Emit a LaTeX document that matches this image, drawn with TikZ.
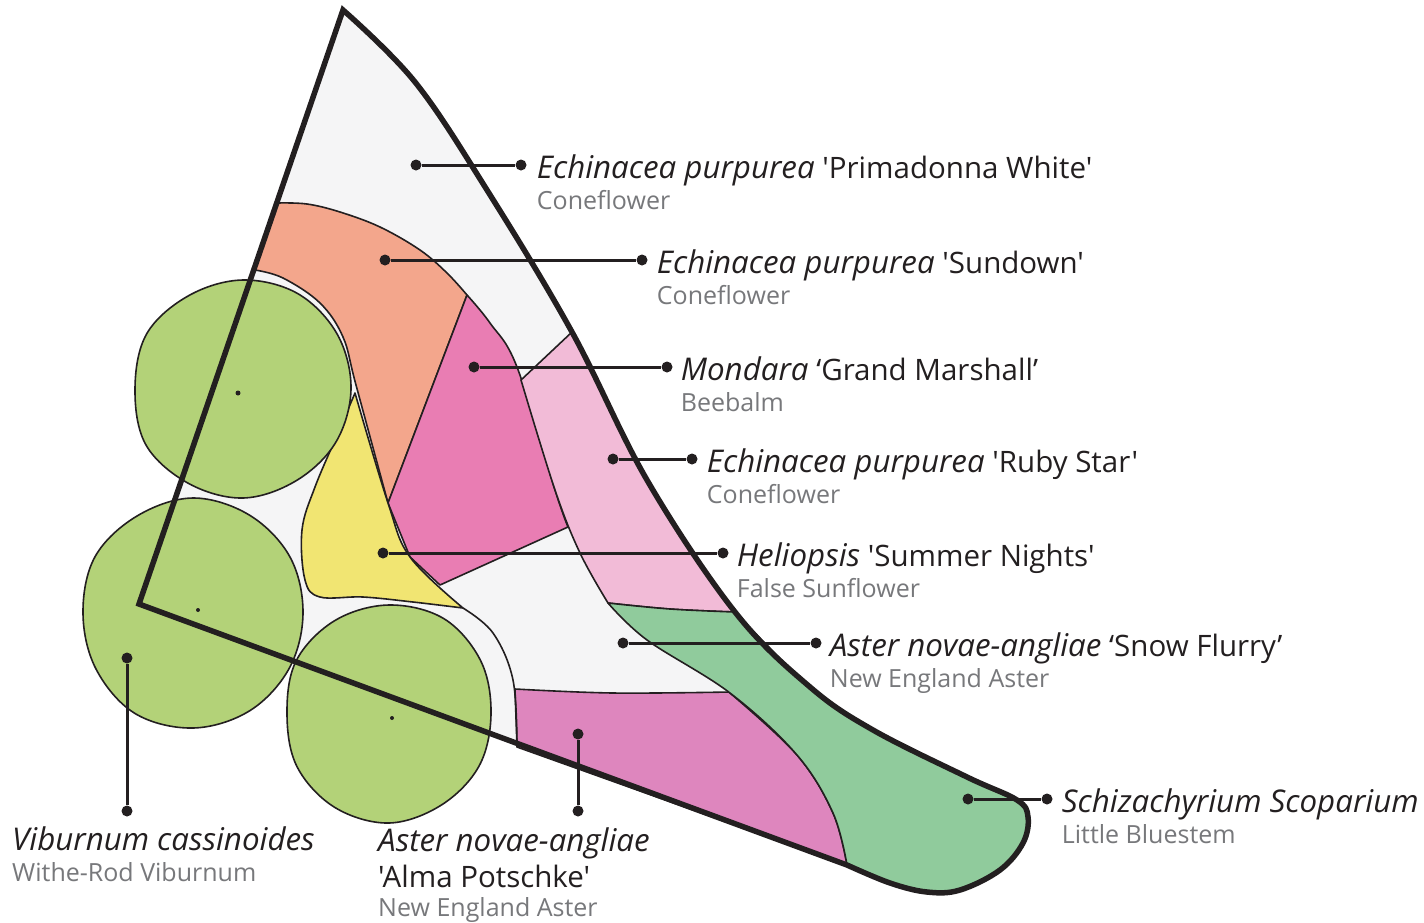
\documentclass[tikz,border=0pt]{standalone}
\usepackage{fontspec}
\setmainfont{Open Sans}[Ligatures=TeXOff]
\usetikzlibrary{positioning}
\definecolor{blanco}{HTML}{F5F5F6}
\definecolor{salmon}{HTML}{F3A68C}
\definecolor{fucsia}{HTML}{E97DB3}
\definecolor{rosa}{HTML}{F2BBD7}
\definecolor{magenta2}{HTML}{DE86BE}
\definecolor{pasto}{HTML}{90CB9C}
\definecolor{amarillo}{HTML}{F1E572}
\definecolor{hoja}{HTML}{B3D278}
\definecolor{tinta}{HTML}{231F20}
\definecolor{gris}{HTML}{77787B}
\newcommand{\latin}[1]{{\fontsize{31.3}{32}\selectfont\itshape #1}}

\begin{document}
\begin{tikzpicture}[x=1pt,y=-1pt,
  zona/.style={draw=tinta,line width=1.6pt,line join=round},
  borde/.style={draw=tinta,line width=5.5pt,line join=miter},
  curva/.style={smooth,tension=.6},
  punto/.style={circle,fill=tinta,inner sep=0pt,minimum size=11pt},
  guia/.style={draw=tinta,line width=3pt},
  planta/.style={inner sep=0pt,text height=22pt,text depth=7pt,text=tinta,yshift=-6pt,font=\fontsize{29.5}{32}\selectfont},
  comun/.style={inner sep=0pt,text height=19pt,text depth=6pt,text=gris,font=\fontsize{25}{28}\selectfont}]
\useasboundingbox (0,0) rectangle (1424,922);
\fill[white] (0,0) rectangle (1424,922);
% cantero
\fill[blanco] plot[curva] coordinates {(343,10) (415,82) (487,190) (572,332) (647,480) (735,612) (810,687) (873,730) (967,777) (1017,800) (1028,817) (1023,843) (1000,870) (960,890) (927,892) (890,883) (847,865)} -- (139,604) -- cycle;
% zonas
\draw[zona,fill=salmon] plot[curva] coordinates {(277,203) (307,204) (340,212) (380,227) (420,250) (447,273) (467,295)} -- (388,503) -- plot[curva] coordinates {(388,503) (356,385) (343,337) (320,303) (283,278) (255,270)} -- cycle;
\draw[zona,fill=fucsia] plot[curva] coordinates {(467,295) (490,323) (517,367) (555,490) (568,527)} -- (440,585) -- (410,557) -- (388,503) -- cycle;
\draw[zona,fill=rosa] (521,380) -- plot[curva] coordinates {(572,332) (607,403) (647,480) (693,553) (735,612)} -- plot[curva] coordinates {(735,612) (670,609) (608,603)} -- plot[curva] coordinates {(608,603) (580,553) (555,490) (521,380)} -- cycle;
\draw[zona,fill=magenta2] plot[curva] coordinates {(515,689) (613,693) (730,692)} -- plot[curva] coordinates {(730,693) (797,755) (833,813) (847,865)} -- (517,747) -- cycle;
\draw[zona,fill=pasto] plot[curva] coordinates {(608,603) (670,609) (735,612)} -- plot[curva] coordinates {(735,612) (810,687) (873,730) (967,777) (1017,800) (1028,817) (1023,843) (1000,870) (960,890) (927,892) (890,883) (847,865)} -- plot[curva] coordinates {(847,865) (833,813) (797,755) (730,693) (647,640) (608,603)} -- cycle;
\draw[zona,fill=amarillo] plot[curva] coordinates {(355,393) (338,433) (315,487) (302,530) (305,580) (320,597) (363,597) (413,602) (463,608)} -- plot[curva] coordinates {(463,608) (410,557) (388,503) (355,393)} -- cycle;
\draw[zona] plot[curva] coordinates {(463,608) (493,633) (513,680) (517,747)};
% arbustos
\begin{scope}[shift={(243,389)}]
\draw[zona,fill=hoja] plot[smooth cycle,tension=.6] coordinates {(0:108) (30:107) (60:106) (90:109) (120:109) (150:112) (180:108) (210:111) (240:108) (270:109) (300:110) (330:109)};
\end{scope}
\begin{scope}[shift={(193,613)}]
\draw[zona,fill=hoja] plot[smooth cycle,tension=.6] coordinates {(0:110) (30:111) (60:113) (90:115) (120:116) (150:112) (180:110) (210:113) (240:112) (270:115) (300:113) (330:112)};
\end{scope}
\begin{scope}[shift={(389,714)}]
\draw[zona,fill=hoja] plot[smooth cycle,tension=.6] coordinates {(0:102) (30:104) (60:105) (90:109) (120:108) (150:106) (180:102) (210:107) (240:108) (270:109) (300:110) (330:106)};
\end{scope}
\fill[tinta] (238,393) circle (2.5pt) (198,610) circle (2pt) (392,718) circle (2pt);
\draw[borde] plot[curva] coordinates {(343,10) (415,82) (487,190) (572,332) (647,480) (735,612) (810,687) (873,730) (967,777) (1017,800) (1028,817) (1023,843) (1000,870) (960,890) (927,892) (890,883) (847,865)} -- (139,604) -- cycle;
% etiquetas
\node[punto] (a0) at (416,165) {}; \node[punto] (a1) at (521,165) {};
\node[punto] (b0) at (385,260) {}; \node[punto] (b1) at (642,260) {};
\node[punto] (c0) at (474,367) {}; \node[punto] (c1) at (667,367) {};
\node[punto] (d0) at (613,459) {}; \node[punto] (d1) at (692,459) {};
\node[punto] (e0) at (383,553) {}; \node[punto] (e1) at (723,553) {};
\node[punto] (f0) at (623,643) {}; \node[punto] (f1) at (816,643) {};
\node[punto] (g0) at (968,799) {}; \node[punto] (g1) at (1047,799) {};
\node[punto] (h0) at (127,658) {}; \node[punto] (h1) at (127,811) {};
\node[punto] (i0) at (578,734) {}; \node[punto] (i1) at (578,811) {};
\foreach \p in {a,b,c,d,e,f,g,h,i} \draw[guia] (\p0)--(\p1);
\node[planta,right=10pt of a1] (an) {\latin{Echinacea purpurea} 'Primadonna White'};
\node[comun,below right=5pt and 0pt of an.south west] (ac) {Coneflower};
\node[planta,right=9pt of b1] (bn) {\latin{Echinacea purpurea} 'Sundown'};
\node[comun,below right=5pt and 0pt of bn.south west] (bc) {Coneflower};
\node[planta,right=8pt of c1] (cn) {\latin{Mondara} ‘Grand Marshall’};
\node[comun,below right=5pt and 0pt of cn.south west] (cc) {Beebalm};
\node[planta,right=9pt of d1] (dn) {\latin{Echinacea purpurea} 'Ruby Star'};
\node[comun,below right=5pt and 0pt of dn.south west] (dc) {Coneflower};
\node[planta,right=8pt of e1] (en) {\latin{Heliopsis} 'Summer Nights'};
\node[comun,below right=5pt and 0pt of en.south west] (ec) {False Sunflower};
\node[planta,right=8pt of f1] (fn) {\latin{Aster novae-angliae} ‘Snow Flurry’};
\node[comun,below right=5pt and 0pt of fn.south west] (fc) {New England Aster};
\node[planta,right=9pt of g1] (gn) {\latin{Schizachyrium Scoparium}};
\node[comun,below right=5pt and 0pt of gn.south west] (gc) {Little Bluestem};
\node[planta,anchor=west] (hn) at (12,837) {\latin{Viburnum cassinoides}};
\node[comun,below right=5pt and 0pt of hn.south west] (hc) {Withe-Rod Viburnum};
\node[planta,anchor=west] (in) at (378,838) {\latin{Aster novae-angliae}};
\node[planta,anchor=west] (im) at (378,874) {'Alma Potschke'};
\node[comun,below right=3pt and 0pt of im.south west] (ic) {New England Aster};
\end{tikzpicture}
\end{document}
